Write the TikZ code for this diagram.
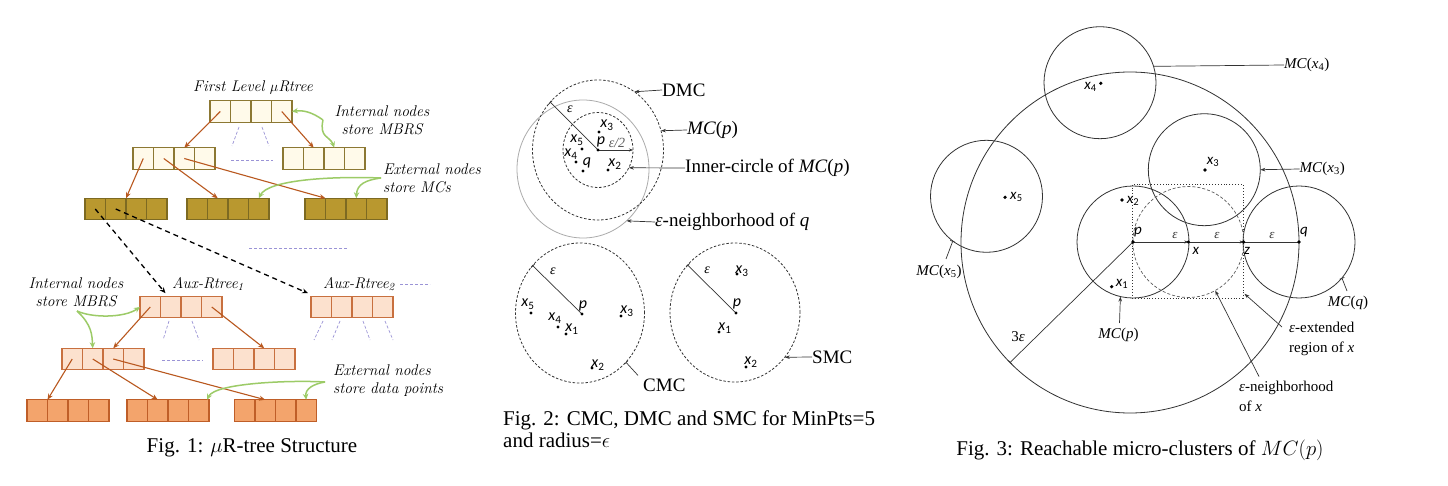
\documentclass[tikz,border=0pt]{standalone}
\usepackage{fontspec}
\newfontfamily\tms{Liberation Serif}
\newfontfamily\ptf{Carlito}
\usetikzlibrary{arrows.meta,calc,shapes.geometric}
\definecolor{cream}{HTML}{FFFAEA}
\definecolor{olivebd}{HTML}{8C7833}
\definecolor{mustard}{HTML}{B9982F}
\definecolor{mustardbd}{HTML}{7D6A22}
\definecolor{peach}{HTML}{FCE1CE}
\definecolor{rust}{HTML}{C8703F}
\definecolor{salmon}{HTML}{F3A46C}
\definecolor{rustd}{HTML}{BF5E28}
\definecolor{brownarr}{HTML}{B9581F}
\definecolor{lgreen}{HTML}{9CCB67}
\definecolor{lav}{HTML}{9A93D6}
\definecolor{gcirc}{HTML}{ABABAB}
\definecolor{dk}{HTML}{333333}
\newcommand\quadbox[4]{\foreach \k in {1,2,3,4}{\node[#4] (#1-\k) at ({#2+(\k-2.5)*20.5},#3) {};}}
\newcommand\px[1]{\textit{x}\textsubscript{#1}}
\tikzset{
 cellbase/.style={line width=1.1pt, minimum width=20.5pt, minimum height=21.5pt, inner sep=0pt, outer sep=0pt},
 cellA/.style={cellbase, draw=olivebd, fill=cream},
 cellB/.style={cellbase, draw=mustardbd, fill=mustard},
 cellC/.style={cellbase, draw=rust, fill=peach},
 cellD/.style={cellbase, draw=rustd, fill=salmon},
 brarr/.style={draw=brownarr, line width=1.1pt, -{Stealth[length=6pt,width=5pt]}},
 garr/.style={draw=lgreen, line width=1.5pt, -{Stealth[length=6pt,width=5.5pt]}},
 lavd/.style={draw=lav, line width=0.7pt, dash pattern=on 3pt off 2pt},
 bkd/.style={black, line width=1.3pt, dash pattern=on 5pt off 4pt, -{Stealth[length=6pt,width=5pt]}},
 fone/.style={font=\fontsize{15.5}{18}\selectfont\itshape, inner sep=0pt},
 capt/.style={font=\tms\fontsize{21}{22}\selectfont, inner sep=0pt},
 ftwo/.style={font=\tms\fontsize{19}{21}\selectfont, inner sep=0pt, anchor=west},
 fthree/.style={font=\tms\fontsize{15}{20.5}\selectfont, inner sep=0pt},
 ptl/.style={font=\ptf\fontsize{16}{16}\selectfont, inner sep=0pt},
 ptlc/.style={font=\ptf\fontsize{15}{15}\selectfont, inner sep=0pt},
 dsh/.style={draw=dk, line width=0.8pt, dash pattern=on 2.5pt off 1.8pt},
 ring/.style={ellipse, inner sep=0pt, outer sep=0pt},
 solidring/.style={ring, draw=dk, line width=0.8pt, minimum width=112, minimum height=112},
 lead/.style={draw=dk, line width=0.7pt, -{Stealth[length=5pt,width=3.5pt]}},
 tickln/.style={draw=dk, line width=0.7pt, {Bar[width=5pt]}-},
 plainln/.style={draw=dk, line width=0.7pt},
}
\begin{document}
\begin{tikzpicture}[x=1pt,y=-1pt]
\useasboundingbox (0,0) rectangle (1448,486);
\fill[white] (0,0) rectangle (1448,486);

% ---------------- Fig. 1 ----------------
\quadbox{t}{251}{111.5}{cellA}
\quadbox{la}{174}{158.5}{cellA}
\quadbox{lb}{324}{158.5}{cellA}
\quadbox{ma}{126}{209}{cellB}
\quadbox{mb}{228}{209}{cellB}
\quadbox{mc}{346}{209}{cellB}
\quadbox{aa}{181}{307}{cellC}
\quadbox{ab}{352}{307}{cellC}
\quadbox{ba}{103}{359}{cellC}
\quadbox{bb}{254}{359}{cellC}
\quadbox{ca}{68}{410.5}{cellD}
\quadbox{cb}{168}{410.5}{cellD}
\quadbox{cc}{275.5}{410.5}{cellD}

\draw[brarr] (t-1.center) -- (la-3.north);
\draw[brarr] (t-4.center) -- (lb-2.north);
\draw[brarr] (la-1.center) -- (ma-2.north east);
\draw[brarr] (la-2.center) -- (mb-2.north);
\draw[brarr] (la-3.center) -- (mc-1.north east);
\draw[brarr] (aa-1.center) -- (ba-3.north);
\draw[brarr] (aa-4.center) -- (bb-3.north);
\draw[brarr] (ba-1.center) -- (ca-1.north east);
\draw[brarr] (ba-2.center) -- (cb-2.north);
\draw[brarr] (ba-3.center) -- (cc-2.north);

\coordinate (aux1tip) at ($(aa-2.north west)+(5,-3)$);
\coordinate (aux2tip) at ($(ab-1.north west)+(-3,-3)$);
\draw[bkd] (ma-1.center) -- (aux1tip);
\draw[bkd] (ma-2.center) -- (aux2tip);

\draw[lavd] (239,127) -- (232,146);
\draw[lavd] (262,127) -- (269,146);
\draw[lavd] (231,160) -- (273,160);
\draw[lavd] (249,248) -- (348,248);
\draw[lavd] (169,321) -- (163,340);
\draw[lavd] (192,321) -- (199,340);
\draw[lavd] (162,360) -- (203,360);
\draw[lavd] (323,321) -- (314,340);
\draw[lavd] (340,321) -- (332,340);
\draw[lavd] (363,321) -- (370,340);
\draw[lavd] (385,321) -- (393,340);
\draw[lavd] (400,284) -- (430,284);

\node[fone] (ttl) at (253,88) {First Level $\mu$Rtree};
\node[fone, align=center] (inA) at (382,120) {Internal nodes\\store MBRS};
\node[fone, align=left, anchor=west] (exA) at (383,178) {External nodes\\store MCs};
\node[fone, anchor=west] (aux1l) at (172,284) {Aux-Rtree\textsubscript{1}};
\node[fone, anchor=west] (aux2l) at (323,284) {Aux-Rtree\textsubscript{2}};
\node[fone, align=center] (inB) at (76,292) {Internal nodes\\store MBRS};
\node[fone, align=left, anchor=west] (exB) at (333,381) {External nodes\\store data points};

\coordinate (gA) at (323,120);
\coordinate (gB) at (381,178);
\coordinate (gC) at (77,311);
\coordinate (gD) at (325,382);
\draw[garr] (gA) .. controls (312,112) and (303,110) .. (t-4.east);
\draw[garr] (gA) .. controls (319,138) and (330,136) .. (lb-3.north);
\draw[garr] (gB) .. controls (330,176) and (268,180) .. (mb-4.north);
\draw[garr] (gB) .. controls (366,180) and (357,184) .. (mc-3.north);
\draw[garr] (gC) .. controls (92,318) and (124,318) .. (aa-1.west);
\draw[garr] (gC) .. controls (92,325) and (92,335) .. (ba-2.north);
\draw[garr] (gD) .. controls (290,380) and (215,383) .. ($(cb-4.north east)+(-2,0)$);
\draw[garr] (gD) .. controls (313,384) and (305,389) .. (cc-4.north);

\node[capt] (cap1) at (252,448) {Fig. 1: $\mu$R-tree Structure};

% ---------------- Fig. 2 top ----------------
\coordinate (p2) at (598,150);
\coordinate (q2) at (583,169);
\node[ring, draw=gcirc, line width=0.8pt, minimum width=132, minimum height=138] (qn) at (q2) {};
\node[ring, dsh, minimum width=131, minimum height=140] (dmc) at (p2) {};
\node[ring, dsh, minimum width=70, minimum height=75] (inner) at (p2) {};
\draw[tickln] (dmc.135) -- (p2);
\draw[draw=dk, line width=0.7pt, -{Stealth[length=4pt,width=3pt]}] (p2) -- (inner.east);
\node[font=\tms\fontsize{14}{14}\selectfont\itshape, inner sep=0pt] (eps2a) at (570,109) {ε};
\node[font=\tms\fontsize{14}{14}\selectfont\itshape, inner sep=0pt, text=dk!80] (eps2b) at (617,143) {ε/2};

\coordinate (x3a) at (599,132);
\coordinate (x5a) at (582,149);
\coordinate (x4a) at (576,162);
\coordinate (qa) at (583,171);
\coordinate (x2a) at (608,170);
\foreach \c in {x3a,x5a,x4a,qa,x2a,p2} \fill (\c) circle (1.6);
\node[ptl] (lx3a) at (607,125) {\px{3}};
\node[ptl] (lx5a) at (577,140) {\px{5}};
\node[ptl] (lx4a) at (571,154) {\px{4}};
\node[ptl] (lqa) at (587,163) {\textit{q}};
\node[ptl] (lx2a) at (615,164) {\px{2}};
\node[ptl] (lpa) at (601,142) {\textit{p}};

\node[ftwo] (ldmc) at (662,90) {DMC};
\node[ftwo] (lmcp) at (687,130) {\textit{MC}(\textit{p})};
\node[ftwo] (linner) at (685,168) {Inner-circle of \textit{MC}(\textit{p})};
\node[ftwo] (lqn) at (655,222) {\textit{ε}-neighborhood of \textit{q}};
\draw[lead] (ldmc.west) -- (dmc.58);
\draw[lead] (lmcp.west) -- (dmc.17);
\draw[lead] (linner.west) -- (inner.-30);
\draw[lead] (lqn.west) -- (qn.-50);

% ---------------- Fig. 2 bottom ----------------
\node[ring, dsh, minimum width=129, minimum height=140] (cmc) at (580,313) {};
\node[ring, dsh, minimum width=130, minimum height=139] (smc) at (735,312.5) {};
\coordinate (pc) at (582,314);
\coordinate (ps) at (736,313);
\draw[tickln] (cmc.135) -- (pc);
\draw[tickln] (smc.135) -- (ps);
\node[font=\tms\fontsize{14}{14}\selectfont\itshape, inner sep=0pt] (epsc) at (553,271) {ε};
\node[font=\tms\fontsize{14}{14}\selectfont\itshape, inner sep=0pt] (epss) at (707,270) {ε};

\coordinate (x5c) at (531,313);
\coordinate (x4c) at (558,327);
\coordinate (x1c) at (566,334);
\coordinate (x3c) at (621,316);
\coordinate (x2c) at (592,368);
\coordinate (x3s) at (737,274);
\coordinate (x1s) at (719,332);
\coordinate (x2s) at (746,367);
\foreach \c in {x5c,x4c,x1c,x3c,x2c,pc,x3s,x1s,x2s,ps} \fill (\c) circle (1.6);
\node[ptl] (lx5c) at (528,304) {\px{5}};
\node[ptl] (lx4c) at (555,318) {\px{4}};
\node[ptl] (lx1c) at (572,329) {\px{1}};
\node[ptl] (lx3c) at (627,311) {\px{3}};
\node[ptl] (lx2c) at (598,365) {\px{2}};
\node[ptl] (lpc) at (583,306) {\textit{p}};
\node[ptl] (lx3s) at (742,271) {\px{3}};
\node[ptl] (lx1s) at (725,328) {\px{1}};
\node[ptl] (lx2s) at (751,362) {\px{2}};
\node[ptl] (lps) at (737,304) {\textit{p}};

\node[ftwo] (lcmc) at (643,385) {CMC};
\node[ftwo] (lsmc) at (812,357) {SMC};
\draw[tickln] (cmc.-47) -- ($(lcmc.north west)+(-5,-3)$);
\draw[lead] (lsmc.west) -- (smc.-42);

\node[capt, anchor=west, align=left] (cap2) at (503,429) {Fig. 2: CMC, DMC and SMC for MinPts=5\\and radius=$\epsilon$};

% ---------------- Fig. 3 ----------------
\coordinate (p3) at (1133,242);
\coordinate (x3m) at (1188.3,242);
\coordinate (z3) at (1243.6,242);
\coordinate (q3) at (1299,242);
\node[ring, draw=dk, line width=0.8pt, minimum width=338, minimum height=341] (big) at (1130,242.5) {};
\node[solidring] (mcx4) at (1100,82.7) {};
\node[solidring] (mcx5) at (986.5,196.3) {};
\node[solidring] (mcx3) at (1204.3,169.7) {};
\node[solidring] (mcp) at (p3) {};
\node[solidring] (mcq) at (q3) {};
\node[ring, draw=dk!80, line width=0.7pt, dash pattern=on 3pt off 2pt, minimum width=111, minimum height=111] (nbx) at (x3m) {};
\node[draw=dk, line width=0.9pt, dotted, minimum width=111, minimum height=114, inner sep=0pt] (sq) at (1187.5,241.3) {};

\draw[draw=dk, line width=0.8pt, -{Stealth[length=4pt,width=3pt]}] (p3) -- (x3m);
\draw[draw=dk, line width=0.8pt, -{Stealth[length=4pt,width=3pt]}] (x3m) -- (z3);
\draw[draw=dk, line width=0.8pt] (z3) -- (q3);
\draw[tickln] (big.225) -- (p3);

\coordinate (x2m) at (1122,200);
\coordinate (x1m) at (1111.7,286.7);
\coordinate (x3d) at (1205,170);
\coordinate (x4d) at (1100.8,83.3);
\coordinate (x5d) at (1005,197.3);
\foreach \c in {p3,x3m,z3,q3,x2m,x1m,x3d,x4d,x5d} \fill (\c) circle (1.8);

\node[ptlc] (lp3) at (1138,232) {\textit{p}};
\node[ptlc] (lx3l) at (1196,251) {\textit{x}};
\node[ptlc] (lz3) at (1247,251) {\textit{z}};
\node[ptlc] (lq3) at (1304,232) {\textit{q}};
\node[ptlc] (lx2m) at (1133,201) {\px{2}};
\node[ptlc] (lx1m) at (1122,284) {\px{1}};
\node[ptlc] (lx3d) at (1213,162) {\px{3}};
\node[ptlc, anchor=east] (lx4d) at (1097,87) {\px{4}};
\node[ptlc, anchor=west] (lx5d) at (1010,197) {\px{5}};
\node[font=\tms\fontsize{13}{13}\selectfont\itshape, inner sep=0pt, text=dk] (e31) at (1175,236) {ε};
\node[font=\tms\fontsize{13}{13}\selectfont\itshape, inner sep=0pt, text=dk] (e32) at (1217,236) {ε};
\node[font=\tms\fontsize{13}{13}\selectfont\itshape, inner sep=0pt, text=dk] (e33) at (1272,236) {ε};
\node[fthree] (l3e) at (1018,337) {3\textit{ε}};

\node[fthree, anchor=west] (lx4mc) at (1284,65) {\textit{MC}(\textit{x}\textsubscript{4})};
\node[fthree, anchor=west] (lx3mc) at (1299.5,169) {\textit{MC}(\textit{x}\textsubscript{3})};
\node[fthree] (lx5mc) at (939,272) {\textit{MC}(\textit{x}\textsubscript{5})};
\node[fthree] (lmcp3) at (1118.5,335) {\textit{MC}(\textit{p})};
\node[fthree] (lmcq) at (1348,303) {\textit{MC}(\textit{q})};
\node[fthree, anchor=west, align=left] (lext) at (1289,339) {\textit{ε}-extended\\region of \textit{x}};
\node[fthree, anchor=west, align=left] (lnb) at (1239,396.5) {\textit{ε}-neighborhood\\of \textit{x}};

\draw[plainln] (mcx4.17) -- (lx4mc.west);
\draw[lead] (lx3mc.west) -- (mcx3.east);
\draw[tickln] (mcx5.233) -- ($(lx5mc.north)+(7,-6)$);
\draw[lead] ($(lmcp3.north)+(1,-5)$) -- (mcp.257);
\draw[tickln] (mcq.-40) -- ($(lmcq.north)+(-1,-5)$);
\draw[lead] ($(lext.west)+(-7,-12)$) -- ($(sq.south east)+(1,-5)$);
\draw[lead] ($(lnb.west)+(20,-20)$) -- (nbx.-61);

\node[capt] (cap3) at (1140,450) {Fig. 3: Reachable micro-clusters of $MC(p)$};
\end{tikzpicture}
\end{document}
